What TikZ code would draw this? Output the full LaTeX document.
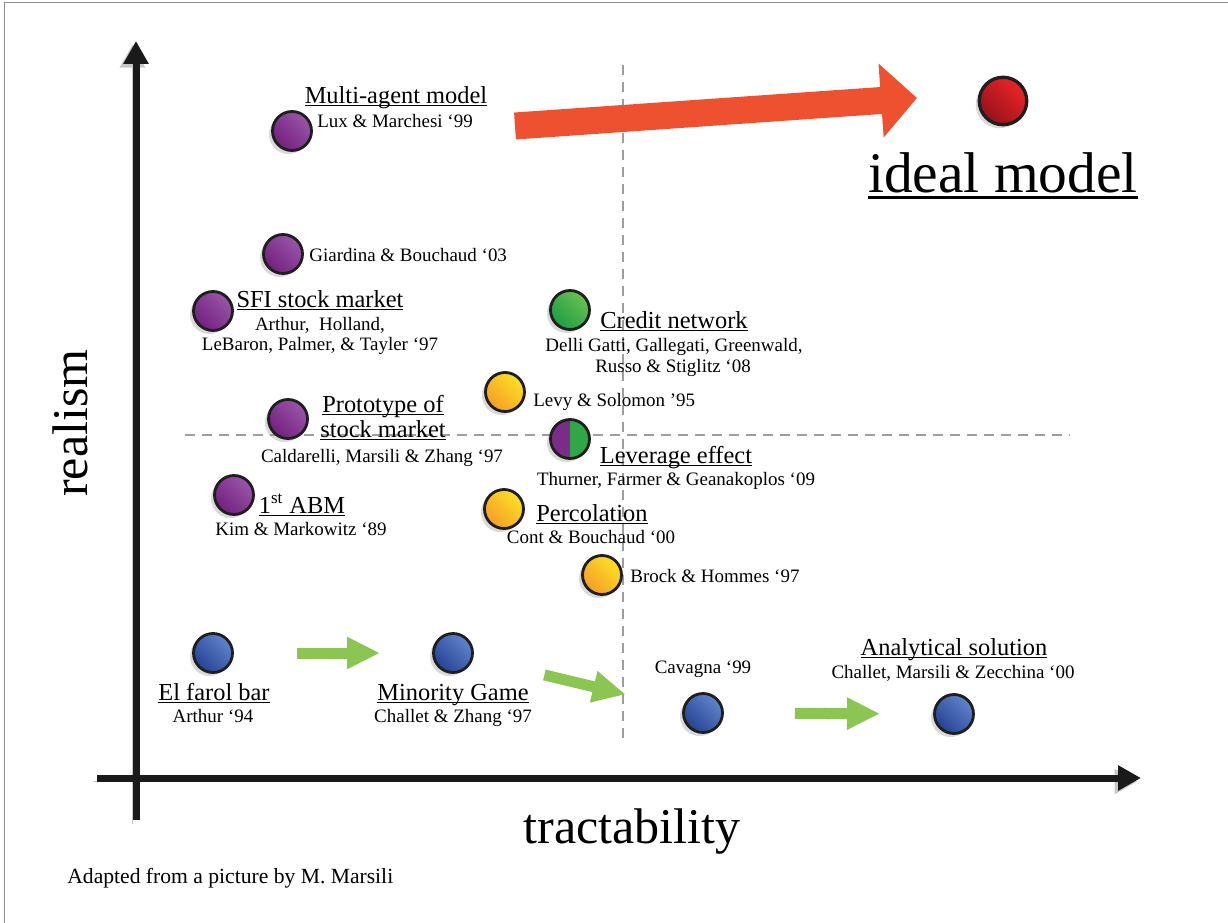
\documentclass[tikz,border=0pt]{standalone}
\usepackage{fontspec}
\setmainfont{Liberation Serif}
\usetikzlibrary{arrows.meta,shadows}

\definecolor{axcol}{RGB}{26,26,26}
\definecolor{redarr}{RGB}{238,81,47}
\definecolor{grnarr}{RGB}{140,198,82}
\definecolor{purpD}{RGB}{116,32,128}
\definecolor{purpL}{RGB}{152,86,168}
\definecolor{yelD}{RGB}{246,158,40}
\definecolor{yelL}{RGB}{252,224,36}
\definecolor{grnD}{RGB}{30,158,68}
\definecolor{grnL}{RGB}{104,192,82}
\definecolor{bluD}{RGB}{38,66,148}
\definecolor{bluL}{RGB}{96,132,202}
\definecolor{redD}{RGB}{148,18,26}
\definecolor{redL}{RGB}{236,36,40}

\newcommand{\undl}[1]{\setbox0=\hbox{#1}\rlap{\rule[-0.13em]{\wd0}{0.06em}}\box0}

\tikzset{
	ball/.style={circle, draw=black!88, line width=1.6pt, minimum size=0.78cm, inner sep=0pt,
		drop shadow={shadow xshift=-2pt, shadow yshift=-2pt, opacity=0.3}},
	purple ball/.style={ball, top color=purpL, bottom color=purpD, shading angle=-45},
	yellow ball/.style={ball, top color=yelL, bottom color=yelD, shading angle=-45},
	green ball/.style={ball, top color=grnL, bottom color=grnD, shading angle=-45},
	blue ball/.style={ball, top color=bluL, bottom color=bluD, shading angle=-45},
	half ball/.style={ball, fill=white, path picture={
		\fill[purpD!80!purpL] (path picture bounding box.south west) rectangle (path picture bounding box.north);
		\fill[grnD!75!grnL] (path picture bounding box.south) rectangle (path picture bounding box.north east);}},
	ttl/.style={font=\fontsize{13.9}{16}\selectfont, inner sep=0pt, anchor=base},
	cite/.style={font=\fontsize{10.8}{13}\selectfont, inner sep=0pt, anchor=base},
	grid line/.style={draw=black!38, line width=0.7pt, dash pattern=on 0.2cm off 0.14cm},
	axis/.style={draw=axcol, line width=0.14cm, -{Triangle[width=0.48cm,length=0.46cm]},
		preaction={draw=black!22, transform canvas={shift={(-2pt,-2pt)}}}},
	green arrow/.style={draw=grnarr, line width=0.22cm, -{Triangle[width=0.6cm,length=0.66cm]}},
	red arrow/.style={draw=redarr, line width=0.54cm, -{Triangle[width=1.44cm,length=0.72cm]}},
	big/.style={font=\fontsize{28.5}{32}\selectfont, inner sep=0pt, anchor=base}
}

\begin{document}
\begin{tikzpicture}[x=0.02cm,y=-0.02cm]
	\useasboundingbox (0,0) rectangle (1228,923);
	\draw[black!45, line width=0.85pt] (4.5,923) -- (4.5,2.5) -- (1228,2.5);

	% linhas tracejadas
	\draw[grid line] (623,65) -- (623,740);
	\draw[grid line] (185,435) -- (1070,435);

	% eixos
	\coordinate (yfoot) at (136,820);
	\coordinate (ytop) at (136,41);
	\coordinate (xfoot) at (97,778);
	\coordinate (xtip) at (1141,778);
	\draw[axis] (yfoot) -- (ytop);
	\draw[axis] (xfoot) -- (xtip);
	\node[big, rotate=90] (realism) at (87,423) {realism};
	\node[big] (tract) at (632,843) {tractability};

	% modelos realistas
	\node[purple ball] (ma) at (292,131) {};
	\node[ttl] (mattl) at (396,103) {\undl{Multi-agent model}};
	\node[cite] (macite) at (395,127) {Lux \& Marchesi `99};

	\node[purple ball] (giar) at (283,254) {};
	\node[cite, anchor=base west] (giarcite) at (309,261) {Giardina \& Bouchaud `03};

	\node[purple ball] (sfi) at (213,311) {};
	\node[ttl] (sfittl) at (320,307) {\undl{SFI stock market}};
	\node[cite] (sficite) at (320,330) {Arthur,\ \ Holland,};
	\node[cite] (sficiteb) at (320,350) {LeBaron, Palmer, \& Tayler `97};

	\node[purple ball] (proto) at (288,419) {};
	\node[ttl] (protottl) at (383,412) {\undl{Prototype of}};
	\node[ttl] (protottlb) at (383,437) {\undl{stock market}};
	\node[cite] (protocite) at (382,462) {Caldarelli, Marsili \& Zhang `97};

	\node[purple ball] (abm) at (234,495) {};
	\node[ttl] (abmttl) at (302,513) {\undl{1\textsuperscript{st} ABM}};
	\node[cite] (abmcite) at (301,535) {Kim \& Markowitz `89};

	% modelos no meio
	\node[green ball] (credit) at (570,310) {};
	\node[ttl] (creditttl) at (674,328) {\undl{Credit network}};
	\node[cite] (creditcite) at (674,351) {Delli Gatti, Gallegati, Greenwald,};
	\node[cite] (creditciteb) at (673,372) {Russo \& Stiglitz `08};

	\node[yellow ball] (levy) at (505,392) {};
	\node[cite, anchor=base west] (levycite) at (533,406) {Levy \& Solomon '95};

	\node[half ball] (lev) at (570,439) {};
	\node[ttl] (levttl) at (676,463) {\undl{Leverage effect}};
	\node[cite] (levcite) at (676,485) {Thurner, Farmer \& Geanakoplos `09};

	\node[yellow ball] (perc) at (504,509) {};
	\node[ttl] (percttl) at (592,521) {\undl{Percolation}};
	\node[cite] (perccite) at (591,543) {Cont \& Bouchaud `00};

	\node[yellow ball] (brock) at (602,575) {};
	\node[cite, anchor=base west] (brockcite) at (630,582) {Brock \& Hommes `97};

	% modelos trataveis
	\node[blue ball] (elfarol) at (213,653) {};
	\node[ttl] (elfarolttl) at (214,700) {\undl{El farol bar}};
	\node[cite] (elfarolcite) at (213,722) {Arthur `94};

	\node[blue ball] (minority) at (453,653) {};
	\node[ttl] (minorityttl) at (453,700) {\undl{Minority Game}};
	\node[cite] (minoritycite) at (453,722) {Challet \& Zhang `97};

	\node[blue ball] (cavagna) at (703,713) {};
	\node[cite] (cavagnacite) at (703,673) {Cavagna `99};

	\node[blue ball] (analytic) at (954,714) {};
	\node[ttl] (analyticttl) at (954,655) {\undl{Analytical solution}};
	\node[cite] (analyticcite) at (953,678) {Challet, Marsili \& Zecchina `00};

	\draw[green arrow, shorten <=1.68cm, shorten >=1.46cm] (elfarol.center) -- (minority.center);
	\draw[green arrow, shorten <=1.88cm, shorten >=1.59cm] (minority.center) -- (cavagna.center);
	\draw[green arrow, shorten <=1.84cm, shorten >=1.48cm] (cavagna.center) -- (analytic.center);

	% modelo ideal
	\coordinate (rstart) at (515,126);
	\coordinate (rtip) at (917,98);
	\draw[red arrow] (rstart) -- (rtip);
	\node[ball, line width=1.9pt, minimum size=0.95cm, top color=redL, bottom color=redD, shading angle=-45] (ideal) at (1003,101) {};
	\node[inner sep=0pt, anchor=base, font=\fontsize{32.7}{38}\selectfont] (idealttl) at (1003,192) {\undl{ideal model}};

	\node[inner sep=0pt, anchor=base west, font=\fontsize{12.3}{14}\selectfont] (adapted) at (67,883) {Adapted from a picture by M. Marsili};
\end{tikzpicture}
\end{document}
